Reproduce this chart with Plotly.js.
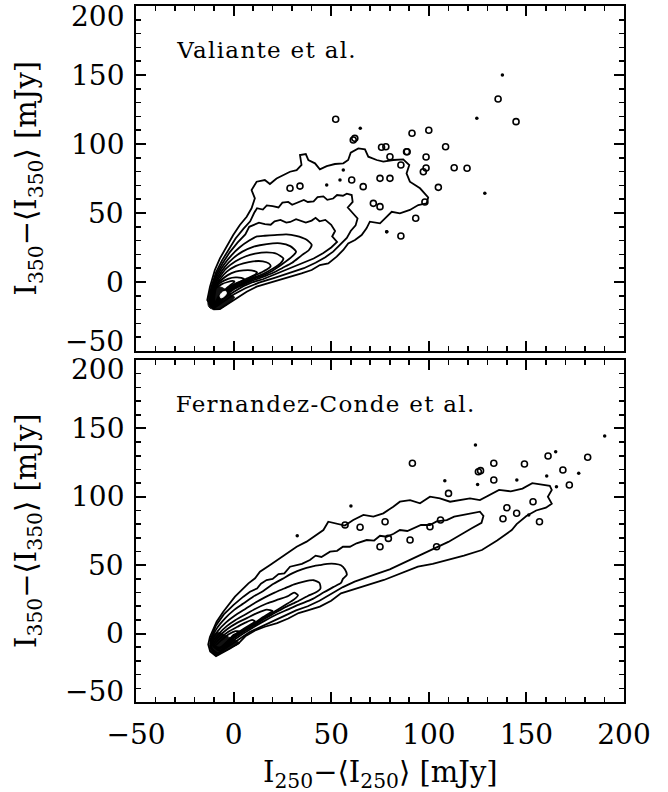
<!DOCTYPE html>
<html><head><meta charset="utf-8">
<script src="https://cdn.plot.ly/plotly-3.0.1.min.js"></script>
<style>
html,body{margin:0;padding:0;background:#fff}
g.annotation.panel-label text{letter-spacing:1.3px}
</style>
</head><body>
<div id="plot" style="width:668px;height:792px"></div>
<script>
// ---------- axis ticks ----------
const xTickVals = [-50, 0, 50, 100, 150, 200];
const xTickText = ['−50', '0', '50', '100', '150', '200'];
const yTickVals = [-50, 0, 50, 100, 150, 200];
const yTickText = ['−50', '0', '50', '100', '150', '200'];
const panelLabels = ['Valiante et al.', 'Fernandez-Conde et al.'];

// ---------- top panel (Valiante et al.) contour lines, [x, y] in mJy ----------
const valC1 = [[-10.4,-19.8],[-13.5,-13.1],[-12.1,-3.4],[-9.6,8.7],[-7,17.1],[-3.6,25.6],[-0.2,34],[3.2,41.3],[6.7,47.3],[9.2,53.4],[10.9,60.6],[9.2,66.6],[11.8,72.7],[16,73.9],[18.6,71],[22,75],[25.4,77.5],[28.9,79.9],[32.3,81.1],[34.8,84.8],[34,92],[37,92.7],[38.3,88.4],[41.7,86],[44.2,81.6],[47.7,84],[51.9,85.5],[56.2,86],[58.7,88.4],[60,93.7],[63.9,96.8],[67.3,96.1],[69,90.8],[73.3,88.4],[76.7,87.2],[81.8,88.4],[86.9,88.9],[90,84.8],[88.6,78.7],[90.3,72.7],[95.5,67.9],[99.7,61.3],[98.9,57],[94.6,55.8],[90.3,52.2],[85.2,49.7],[81,50.9],[78.4,47.3],[75,42.5],[69.8,43.7],[68.1,38.9],[65.6,34],[62.2,30.4],[58.7,28],[56.2,23.2],[52.8,18.4],[48.5,13.5],[44.2,12.3],[40,8.7],[34.8,6.3],[28.9,3.9],[22.9,1.4],[16.9,-1],[11.8,-3.4],[6.7,-7],[1.5,-11.9],[-3.6,-16.7],[-7,-19.6],[-10.4,-19.8]];
const valC2 = [[-10.3,-19.2],[-12.3,-16],[-11.5,-4],[-9,7],[-6,15.5],[-2.5,24],[1,31.5],[5,38.5],[8.5,44],[10.5,50],[12,53.5],[15,52.5],[17,55.5],[20,55],[23,54],[25,57.5],[28,58],[30,56],[33,57.5],[36,59.5],[38,58],[41,58.5],[43,61.5],[46,62],[48,59.5],[51,60.5],[53,63],[56,62.5],[58,64],[60.5,63],[61,58],[58.5,54],[61,50],[63.5,46],[62.5,41],[60,37],[58,32],[55,28],[51,22],[47,18],[42,14],[36,10],[29,6.5],[21,3],[13,-0.5],[6,-4.5],[0,-9],[-5,-14],[-8,-17.5],[-10.3,-19.2]];
const valC3 = [[-10.2,-18.7],[-12,-16],[-11.2,-4],[-8.6,6],[-5.5,14],[-2,21.5],[2,28.5],[6,34.5],[8,40],[11,41.5],[13,43],[16,42],[19,41.5],[21,44],[24,45],[27,43],[29,43.5],[32,45.5],[35,44],[37,43],[40,44.5],[42,46.5],[44,44],[47,45],[50,41.5],[52,37],[50.5,33],[53,29],[50,25],[46,21],[41,17],[35,13.5],[30,10.7],[25,7.5],[20,4.5],[15,2],[10,0],[5,-3],[0,-7.2],[-5,-12],[-8,-16],[-10.2,-18.7]];
const valC4 = [[-10.1,-18.2],[-11.7,-16],[-10.9,-4],[-8.2,5],[-5,12.5],[-1,19.5],[3,25],[8,30],[12,33],[16,33.5],[21,34],[27,34.5],[32,33.5],[37,31],[40,27],[38.5,23],[35,19.5],[30,14],[25,10.2],[20,6.5],[15,3.7],[10,1.2],[5,-2],[0,-5.4],[-5,-11.2],[-8,-15.5],[-10.1,-18.2]];
const valC5 = [[-10,-17.8],[-11.4,-16],[-10.6,-4],[-7.8,4],[-4.5,11],[0,17.5],[4.5,22],[10,25.5],[17,27.5],[24,28],[29,26],[32,22],[30,18.5],[25,13],[20,8.2],[15,4.8],[10,2.2],[5,-1.3],[0,-4.6],[-5,-10.4],[-8,-14.8],[-10,-17.8]];
const valC6 = [[-9.9,-17.3],[-11.1,-15.5],[-10.3,-4],[-7.4,3],[-4,9.5],[1,15],[6,18.5],[11,20.5],[17,21.5],[22,20.5],[25.5,17],[24,13.5],[20,9.6],[15,5.8],[10,3],[5,-0.6],[0,-3.8],[-5,-9.6],[-8,-14],[-9.9,-17.3]];
const valC7 = [[-9.8,-16.8],[-10.8,-15],[-10,-4],[-7,2],[-3.5,7.5],[1,11.5],[5,13.5],[10,15],[15,15],[18,13.5],[19,11.5],[17,9],[14,6.8],[10,4],[5,0.2],[0,-3],[-5,-8.8],[-8,-13.2],[-9.8,-16.8]];
const valC8 = [[-9.7,-16.3],[-10.5,-14.5],[-9.7,-4],[-6.6,1],[-3,5],[1,7.5],[5,8.5],[9,8.5],[12,7],[11,5.2],[7,2.6],[3,-0.2],[0,-2.2],[-5,-8],[-7.5,-11.8],[-9.7,-16.3]];
const valC9 = [[-9.6,-15.8],[-10.2,-14],[-9.4,-4],[-6.2,0],[-2.5,2.5],[1,3.3],[4,3],[5.5,2],[4,0.7],[1,-1.2],[-2,-3.5],[-5,-7.3],[-7.5,-11],[-9.6,-15.8]];
const valC10 = [[-9.5,-15.3],[-9.9,-13.5],[-9,-4.5],[-6,-1.5],[-3,0],[-0.5,0.8],[0.5,0.2],[-1,-1.5],[-3,-3.8],[-5,-6.5],[-7.5,-10],[-9.5,-15.3]];
const valCore = [[-13,-17],[-13.1,-12],[-12.4,-7],[-11,-4],[-8.5,-3],[-6,-4],[-3.5,-6],[-1,-9.5],[0.5,-11],[-1,-13.5],[-3.6,-16.5],[-7,-19.3],[-10.4,-19.6],[-12,-19],[-13,-17]];
const valHole = [[-6.6,-11.5],[-6.9,-9.5],[-5.6,-7.3],[-4,-6.8],[-3.7,-8.3],[-4.9,-10.5],[-6.6,-11.5]];
const valRingX = [52.3,62.1,91.4,100,108.6,135.5,144.7,113,119.6,104.9,98.6,98.6,88.9,85.7,78,93.3,85.7,98,28.9,34,60.5,66.4,75,80.1,71.6,75,61.3,80.1,75.8,88.6,97.2];
const valRingY = [117.9,104.1,107.8,110,98,132.6,116.2,82.8,82.4,68.6,82.6,90.6,94.4,84.8,98,46.2,33.3,58,67.9,69.5,73.9,69.1,75.1,75.1,57,54.6,102.9,90.8,97.6,94.4,79.9];
const valDotX = [64.9,124.6,137.7,128.7,78.5,47.7,54.5,56.2,78.4];
const valDotY = [111.4,118.6,150,64.3,36.5,70.3,73.9,81.1,36.5];

// ---------- bottom panel (Fernandez-Conde et al.) contour lines ----------
const fcC1 = [[-12.1,-2.3],[-8.7,8.7],[-5.3,16],[-1.8,22.1],[0.7,27],[4.1,31.8],[7.6,36.7],[11,40.4],[13.5,45.2],[18.7,50.1],[23.8,55],[27.2,58.6],[32.3,63.5],[37.4,67.2],[40.9,70.8],[46,75.7],[48.5,81.8],[52.8,80.6],[57,79],[61.3,83],[66.5,86.7],[71.6,85.5],[76.7,87.9],[81.8,92.8],[85.2,96.4],[90.4,97.6],[95.5,95.2],[100.6,100.1],[105.7,98.9],[110.9,96.4],[116,97.6],[121.1,98.9],[126.2,97.6],[131,101],[136,105],[142,104],[148,106],[153,110],[158,109],[162,108],[163,105],[161,100],[163,95],[160,92],[155,90],[150,86],[145,80],[142.5,75.7],[135,68],[127.2,61.1],[118,57],[109.7,53.7],[102,51],[94.4,48.9],[86,44],[77,39.2],[66,34.3],[55,29.4],[50,24],[44.2,19.7],[38,17],[33.3,15],[28,11],[22.3,7.7],[16,5],[11.4,2.6],[6,-2],[2.7,-6.9],[-2,-11],[-6.1,-14.2],[-9,-16.5],[-12,-13],[-13,-8],[-12.1,-2.3]];
const fcC2 = [[-11.8,-4],[-9,6],[-5,14],[0,21],[5,27],[8.4,30.6],[12,33],[14,36.5],[16.9,39.1],[20,40],[23,43.5],[26,44],[28.9,48.9],[31,49.5],[35,51],[39.1,53.8],[42,57],[45,56],[49.4,59.9],[53,60.5],[56,63.5],[59.6,63.5],[63,66],[68.2,68.4],[72,68],[75,71.5],[78.4,70.8],[82,73],[85.2,75.7],[89,75],[92.1,76.9],[96,79.5],[100.6,79.4],[104,82],[109.2,83],[113,85.5],[117.7,86.7],[122,88],[126.2,89.1],[128,86],[127,81],[122,77],[116,72],[110,67],[104,63],[98,59],[92,55],[86,51],[80,47],[74,44],[68,41],[62,38],[56,34],[50,29],[44,24],[38,20],[32,17],[26,13],[20,9],[14,5.5],[8,1],[3,-4],[-2,-9],[-6,-13],[-9,-15.5],[-11.5,-11],[-11.8,-4]];
const fcC3 = [[-11.5,-5],[-8.5,4],[-4.5,11],[0,17],[5,22],[10,27],[15,31],[20,36],[25,40],[30,44],[35,47],[40,49],[44,50],[48,51],[52,51],[55,50],[57,47],[58,43],[56,40],[55,37],[51,34],[46,30],[40,25],[34,21.5],[28,17.7],[22,14],[16,9.5],[10,4.5],[5,0],[0,-5],[-4,-10],[-8,-14.5],[-11,-11],[-11.5,-5]];
const fcC4 = [[-11.2,-6],[-8,2],[-4,8],[0.5,13],[6,18],[11,22.5],[16,26.5],[21,30],[26,33],[31,36],[36,38],[41,39],[44,37],[44.5,33],[42,30],[38,27.5],[32,23],[26,19],[20,14.2],[14,9.3],[10,5.5],[5,1.2],[0,-3.5],[-3,-7.5],[-7,-12.5],[-10,-10],[-11.2,-6]];
const fcC5 = [[-10.9,-7],[-7.5,0],[-3.5,5.5],[1,10],[6,14],[11,18],[17,22],[23,25],[28,27.5],[31,30],[33,28],[31,25],[26,20.5],[20,15.2],[14,10.3],[10,6.3],[5,2],[0,-2.8],[-4,-7.5],[-8,-11.5],[-10.9,-7]];
const fcC6 = [[-10.5,-8],[-7,-1.5],[-3,3.5],[2,8],[7,11.5],[12,15],[17,17.5],[20,16.5],[18.5,15],[14,11],[10,7],[5,2.7],[0,-2.1],[-4,-7],[-7.5,-11],[-10.5,-8]];
const fcC7 = [[-10,-9],[-6.5,-3],[-2.5,1.5],[2,5],[6,8],[9.5,10],[11,9],[10,7.8],[5,3.4],[0,-1.5],[-3.5,-6.3],[-7,-10.5],[-10,-9]];
const fcC8 = [[-9.5,-9.5],[-6,-4.5],[-2.5,-0.5],[1,1.8],[3,1.5],[1.5,0],[0,-0.8],[-3,-5.5],[-6.5,-10],[-9.5,-9.5]];
const fcCore = [[-12.3,-8],[-11.8,-4.7],[-10.8,-1.5],[-9,0.5],[-6.5,0.5],[-4,-1.5],[-1,-3.5],[2,-5.5],[3,-7],[0,-9.5],[-2,-11],[-6,-14],[-9,-16.2],[-11.7,-13],[-12.3,-8]];
const fcRingX = [91.6,110.1,126.5,133.3,133.3,149,161.1,168.7,181.4,172,153.4,156.7,125.4,57.1,64.8,77.6,79.3,75,90.4,104,106,100.6,140,145,138];
const fcRingY = [124.5,102.5,119.1,124.5,112.3,124,129.8,119.6,128.9,108.6,96.4,81.8,118.3,79.4,77.7,81.8,69.6,63.5,68.4,63.5,83,78.1,92,88,84];
const fcDotX = [32.6,60.1,108.2,123.9,125,145.1,165,160.4,176.8,190.1,165.4,151.2];
const fcDotY = [71.6,93.3,111.8,137.9,109,112.3,133,115.2,117.2,144.4,107.4,86.7];

// ---------- build traces ----------
const traces = [];
function addPath(pts, xa, ya, shape) {
  traces.push({type: 'scatter', mode: 'lines', x: pts.map(p => p[0]), y: pts.map(p => p[1]),
    xaxis: xa, yaxis: ya, hoverinfo: 'skip', showlegend: false,
    line: {color: '#000', width: 1.8, shape: shape, smoothing: 0.6}});
}
function addFill(pts, xa, ya, color) {
  traces.push({type: 'scatter', mode: 'lines', x: pts.map(p => p[0]), y: pts.map(p => p[1]),
    xaxis: xa, yaxis: ya, hoverinfo: 'skip', showlegend: false, fill: 'toself', fillcolor: color,
    line: {color: color, width: 1, shape: 'spline', smoothing: 0.8}});
}
addFill(valCore, 'x', 'y', '#111');
addFill(fcCore, 'x2', 'y2', '#111');
[valC1, valC2, valC3].forEach(p => addPath(p, 'x', 'y', 'linear'));
[valC4, valC5, valC6, valC7, valC8, valC9, valC10].forEach(p => addPath(p, 'x', 'y', 'spline'));
[fcC1, fcC2].forEach(p => addPath(p, 'x2', 'y2', 'linear'));
[fcC3, fcC4, fcC5, fcC6, fcC7, fcC8].forEach(p => addPath(p, 'x2', 'y2', 'spline'));
addFill(valHole, 'x', 'y', '#fff');
function addMarks(xs, ys, xa, ya, ring) {
  traces.push({type: 'scatter', mode: 'markers', x: xs, y: ys, xaxis: xa, yaxis: ya, showlegend: false, hoverinfo: 'skip',
    marker: ring ? {symbol: 'circle-open', size: 6, color: '#000', line: {width: 1.6, color: '#000'}}
                 : {symbol: 'circle', size: 3.5, color: '#000'}});
}
addMarks(valRingX, valRingY, 'x', 'y', true);
addMarks(valDotX, valDotY, 'x', 'y', false);
addMarks(fcRingX, fcRingY, 'x2', 'y2', true);
addMarks(fcDotX, fcDotY, 'x2', 'y2', false);

// ---------- layout ----------
const SERIF = 'DejaVu Serif, serif';
const LABEL_SPACING = 1.3;
function axisBase(extra) {
  return Object.assign({
    range: [-50, 200], showline: true, linecolor: '#000', linewidth: 2.2, mirror: 'allticks',
    ticks: 'inside', ticklen: 10, tickwidth: 2, tickcolor: '#000',
    tickvals: xTickVals, showgrid: false, zeroline: false, fixedrange: true,
    minor: {dtick: 10, tick0: 0, ticks: 'inside', ticklen: 5, tickwidth: 1.6, tickcolor: '#000', showgrid: false}
  }, extra);
}
const topDom = [0.5043, 1], botDom = [0, 0.4914];
const annotations = [];
['y', 'y2'].forEach(yr => {
  yTickVals.forEach((v, i) => {
    annotations.push({xref: 'paper', x: 0, xanchor: 'right', xshift: -10, yref: yr, y: v, yanchor: 'middle',
      yshift: v === 200 ? -10 : (v === -50 ? 10 : 0), text: yTickText[i], showarrow: false,
      font: {family: SERIF, size: 28, color: '#000'}});
  });
});
const yTitle = 'I<sub>350</sub>−⟨I<sub>350</sub>⟩ [mJy]';
[topDom, botDom].forEach(d => {
  annotations.push({xref: 'paper', x: 0, xshift: -108, xanchor: 'center', yref: 'paper', y: (d[0] + d[1]) / 2,
    yanchor: 'middle', textangle: -90, text: yTitle, showarrow: false, font: {family: SERIF, size: 29, color: '#000'}});
});
annotations.push({xref: 'paper', x: 0.5, xanchor: 'center', yref: 'paper', y: 0, yanchor: 'middle', yshift: -72,
  text: 'I<sub>250</sub>−⟨I<sub>250</sub>⟩ [mJy]', showarrow: false, font: {family: SERIF, size: 29, color: '#000'}});
const labelStart = annotations.length;
[['x', 'y'], ['x2', 'y2']].forEach(([xr, yr], i) => {
  annotations.push({xref: xr, x: -28.5, xanchor: 'left', xshift: panelLabels[i].length * LABEL_SPACING / 2 - 4,
    yref: yr, y: 168, yanchor: 'middle', text: panelLabels[i], showarrow: false,
    font: {family: SERIF, size: 23, color: '#000'}});
});

const layout = {
  width: 668, height: 792, margin: {l: 136, r: 44, t: 6, b: 90},
  paper_bgcolor: '#fff', plot_bgcolor: '#fff', showlegend: false,
  xaxis: axisBase({anchor: 'y', domain: [0, 1], showticklabels: false}),
  yaxis: axisBase({anchor: 'x', domain: topDom, tickvals: yTickVals, showticklabels: false}),
  xaxis2: axisBase({anchor: 'y2', domain: [0, 1], showticklabels: true, ticktext: xTickText,
    tickfont: {family: SERIF, size: 28, color: '#000'}, ticklabelstandoff: 6}),
  yaxis2: axisBase({anchor: 'x2', domain: botDom, tickvals: yTickVals, showticklabels: false}),
  annotations: annotations
};
Plotly.newPlot('plot', traces, layout, {staticPlot: true, displayModeBar: false}).then(gd => {
  gd.querySelectorAll('g.annotation').forEach(g => {
    const idx = +g.getAttribute('data-index');
    if (idx >= labelStart) g.classList.add('panel-label');
  });
});
</script>
</body></html>
